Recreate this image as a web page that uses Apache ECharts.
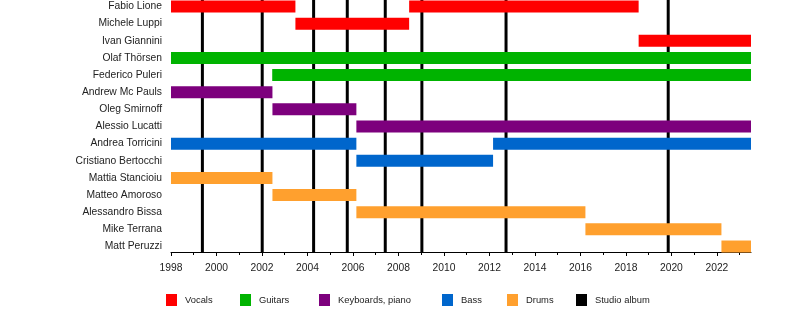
<!DOCTYPE html>
<html>
<head>
<meta charset="utf-8">
<script src="https://cdn.jsdelivr.net/npm/echarts@6/dist/echarts.min.js"></script>
<style>
  html, body { margin: 0; padding: 0; background: #fff; }
  #main { width: 800px; height: 332px; }
</style>
</head>
<body>
<div id="main"></div>
<script>
// band members, top to bottom
const members = ['Fabio Lione', 'Michele Luppi', 'Ivan Giannini', 'Olaf Thörsen', 'Federico Puleri',
  'Andrew Mc Pauls', 'Oleg Smirnoff', 'Alessio Lucatti', 'Andrea Torricini', 'Cristiano Bertocchi',
  'Mattia Stancioiu', 'Matteo Amoroso', 'Alessandro Bissa', 'Mike Terrana', 'Matt Peruzzi'];

// [row, from, to]
const vocals = [[0, 1998, 2003.47], [0, 2008.47, 2018.56], [1, 2003.47, 2008.47], [2, 2018.56, 2023.5]];
const guitars = [[3, 1998, 2023.5], [4, 2002.45, 2023.5]];
const keyboards = [[5, 1998, 2002.46], [6, 2002.46, 2006.15], [7, 2006.15, 2023.5]];
const bass = [[8, 1998, 2006.15], [8, 2012.16, 2023.5], [9, 2006.15, 2012.16]];
const drums = [[10, 1998, 2002.46], [11, 2002.46, 2006.15], [12, 2006.15, 2016.22], [13, 2016.22, 2022.2], [14, 2022.2, 2023.5]];

// studio albums
const albums = [1999.38, 2002.01, 2004.27, 2005.75, 2007.42, 2009.03, 2012.73, 2019.86];

const yearTicks = [1998, 2000, 2002, 2004, 2006, 2008, 2010, 2012, 2014, 2016, 2018, 2020, 2022];

const chart = echarts.init(document.getElementById('main'));

function barItem(params, api) {
  const a = api.coord([api.value(1), api.value(0)]);
  const b = api.coord([api.value(2), api.value(0)]);
  const h = 12;
  return {
    type: 'rect',
    shape: { x: a[0], y: a[1] - h / 2, width: b[0] - a[0], height: h },
    style: { fill: api.visual('color') }
  };
}

function albumItem(params, api) {
  const p = api.coord([api.value(0), 0]);
  const cs = params.coordSys;
  return {
    type: 'line',
    shape: { x1: p[0], y1: cs.y, x2: p[0], y2: cs.y + cs.height },
    style: { stroke: '#000', lineWidth: 3 }
  };
}

function bars(name, data, color) {
  return {
    name: name,
    type: 'custom',
    renderItem: barItem,
    itemStyle: { color: color },
    encode: { x: [1, 2], y: 0 },
    data: data,
    z: 3
  };
}

const font = { fontFamily: 'Liberation Sans, Arial, sans-serif', fontSize: 10.3, color: '#222' };

const legendPos = [166, 240, 319, 442, 507, 576];
const legendNames = ['Vocals', 'Guitars', 'Keyboards, piano', 'Bass', 'Drums', 'Studio album'];

const option = {
  animation: false,
  grid: { left: 171, right: 49, top: 0, bottom: 80 },
  legend: legendNames.map(function (n, i) {
    return {
      data: [n],
      left: legendPos[i],
      top: 294,
      padding: 0,
      icon: 'rect',
      itemWidth: 11,
      itemHeight: 12,
      selectedMode: false,
      textStyle: Object.assign({}, font, { fontSize: 9.4, padding: [0, 0, 0, 3] })
    };
  }),
  xAxis: {
    type: 'value',
    position: 'bottom',
    min: 1998,
    max: 2023.5,
    interval: 2,
    axisLine: { show: true, onZero: false, lineStyle: { color: '#000', width: 1 } },
    axisTick: { show: true, length: 4, customValues: yearTicks, lineStyle: { color: '#000' } },
    minorTick: { show: true, splitNumber: 2, length: 3, lineStyle: { color: '#000' } },
    axisLabel: Object.assign({
      customValues: yearTicks,
      margin: 11,
      formatter: function (v) { return String(v); }
    }, font),
    splitLine: { show: false }
  },
  yAxis: {
    type: 'value',
    inverse: true,
    min: -0.38,
    max: 14.32,
    axisLine: { show: false },
    axisTick: { show: false },
    splitLine: { show: false },
    axisLabel: Object.assign({
      customValues: members.map(function (m, i) { return i; }),
      formatter: function (v) { return members[Math.round(v)]; },
      margin: 9
    }, font)
  },
  series: [
    {
      name: 'Studio album',
      type: 'custom',
      renderItem: albumItem,
      itemStyle: { color: '#000' },
      encode: { x: 0 },
      data: albums.map(function (y) { return [y]; }),
      z: 1
    },
    bars('Vocals', vocals, '#ff0000'),
    bars('Guitars', guitars, '#00b300'),
    bars('Keyboards, piano', keyboards, '#7d007d'),
    bars('Bass', bass, '#0066cc'),
    bars('Drums', drums, '#ffa02e')
  ]
};

chart.setOption(option);
</script>
</body>
</html>
